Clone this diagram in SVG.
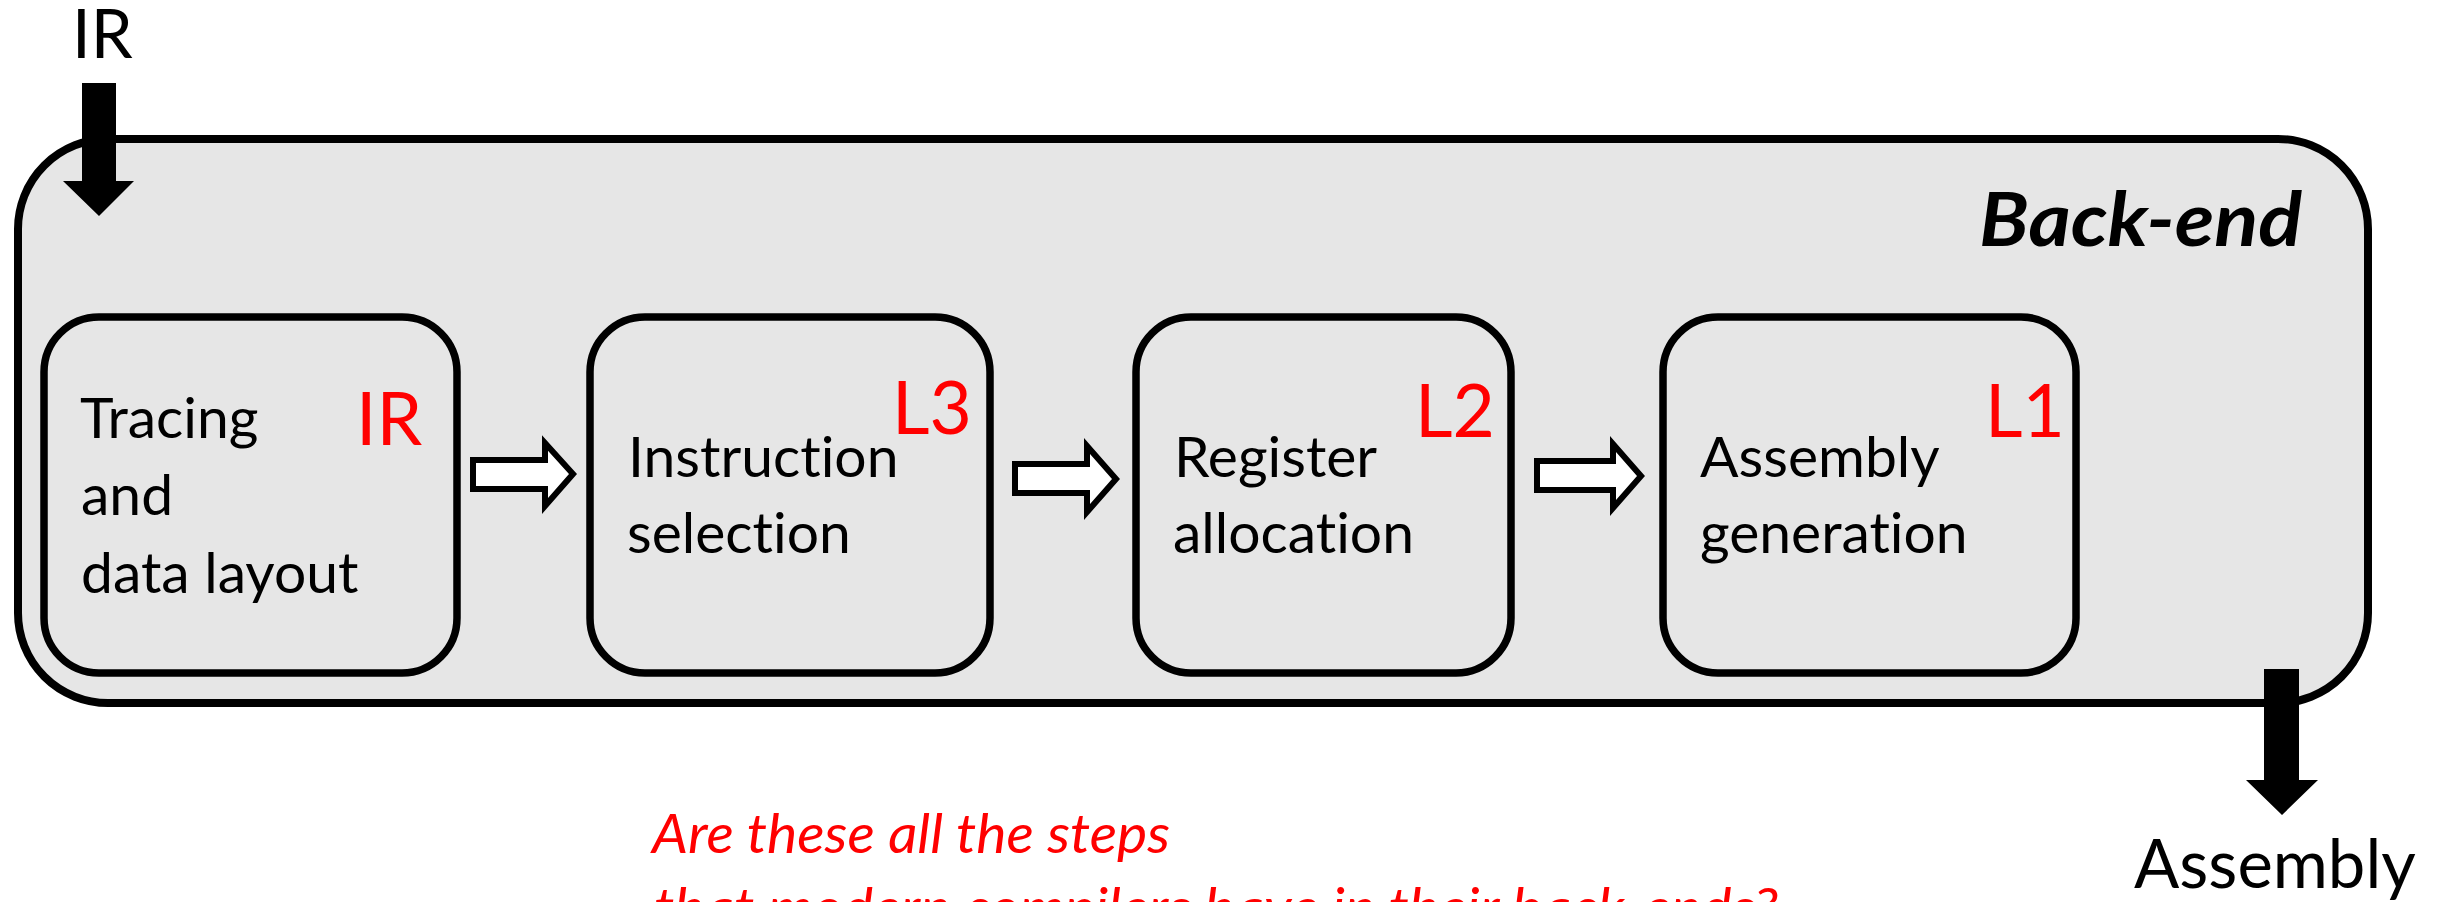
<svg xmlns="http://www.w3.org/2000/svg" width="2446" height="902" viewBox="0 0 2446 902">
  <style>
    .frame { fill: #e6e6e6; stroke: #000; stroke-width: 8; }
    .stage { fill: #e6e6e6; stroke: #000; stroke-width: 7.5; }
    .flow { fill: #fff; stroke: #000; stroke-width: 6; stroke-linejoin: miter; }
    .io { fill: #000; stroke: none; }
    .txt { font-family: Lato, "Open Sans", "Liberation Sans", sans-serif; fill: #000; font-variant-ligatures: none; font-feature-settings: "liga" 0, "clig" 0; }
    .body { font-size: 57px; }
    .lvl { font-size: 73px; fill: #ff0000; }
    .title { font-size: 75px; font-weight: bold; font-style: italic; }
    .io-label { font-size: 67px; }
    .note { font-size: 54px; font-style: italic; fill: #ff0000; }
  </style>
  <rect width="2446" height="902" fill="#fff"/>

  <!-- back-end container -->
  <g id="backend">
    <rect class="frame" x="18" y="139" width="2350" height="564" rx="90" ry="90"/>
    <text class="txt title" x="1979" y="246" textLength="323" lengthAdjust="spacingAndGlyphs">Back-end</text>
  </g>

  <!-- stages -->
  <g id="tracing">
    <rect class="stage" x="44" y="317" width="413" height="356" rx="55" ry="55"/>
    <text class="txt body" x="80" y="438">Tracing</text>
    <text class="txt body" x="81" y="515">and</text>
    <text class="txt body" x="81" y="593">data layout</text>
    <text class="txt lvl" x="356" y="445">IR</text>
  </g>
  <g id="isel">
    <rect class="stage" x="590" y="317" width="400" height="356" rx="55" ry="55"/>
    <text class="txt body" x="628" y="477">Instruction</text>
    <text class="txt body" x="627" y="553">selection</text>
    <text class="txt lvl" x="892" y="434">L3</text>
  </g>
  <g id="regalloc">
    <rect class="stage" x="1136" y="317" width="375" height="356" rx="55" ry="55"/>
    <text class="txt body" x="1174" y="477">Register</text>
    <text class="txt body" x="1173" y="553">allocation</text>
    <text class="txt lvl" x="1415" y="437">L2</text>
  </g>
  <g id="asmgen">
    <rect class="stage" x="1663" y="317" width="413" height="356" rx="55" ry="55"/>
    <text class="txt body" x="1700" y="477">Assembly</text>
    <text class="txt body" x="1700" y="553">generation</text>
    <text class="txt lvl" x="1985" y="437">L1</text>
  </g>

  <!-- input / output -->
  <g id="input">
    <text class="txt io-label" x="72" y="58">IR</text>
  </g>
  <g id="output">
    <text class="txt io-label" x="2134" y="888">Assembly</text>
  </g>

  <!-- connectors -->
  <g id="connectors">
    <polygon class="io" points="82,83 116,83 116,181 134,181 99,216 63,181 82,181"/>
    <polygon class="flow" points="473,460 545,460 545,443 573,474 545,506 545,489 473,489"/>
    <polygon class="flow" points="1015,464 1087,464 1087,446 1116,479 1087,512 1087,493 1015,493"/>
    <polygon class="flow" points="1537,461 1613,461 1613,444 1641,476 1613,508 1613,490 1537,490"/>
    <polygon class="io" points="2264,669 2299,669 2299,780 2318,780 2282,815 2246,780 2264,780"/>
  </g>

  <!-- question -->
  <g id="question">
    <text class="txt note" x="652" y="853" textLength="518" lengthAdjust="spacingAndGlyphs">Are these all the steps</text>
    <text class="txt note" x="654" y="927" textLength="1124" lengthAdjust="spacingAndGlyphs">that modern compilers have in their back-ends?</text>
  </g>
</svg>
